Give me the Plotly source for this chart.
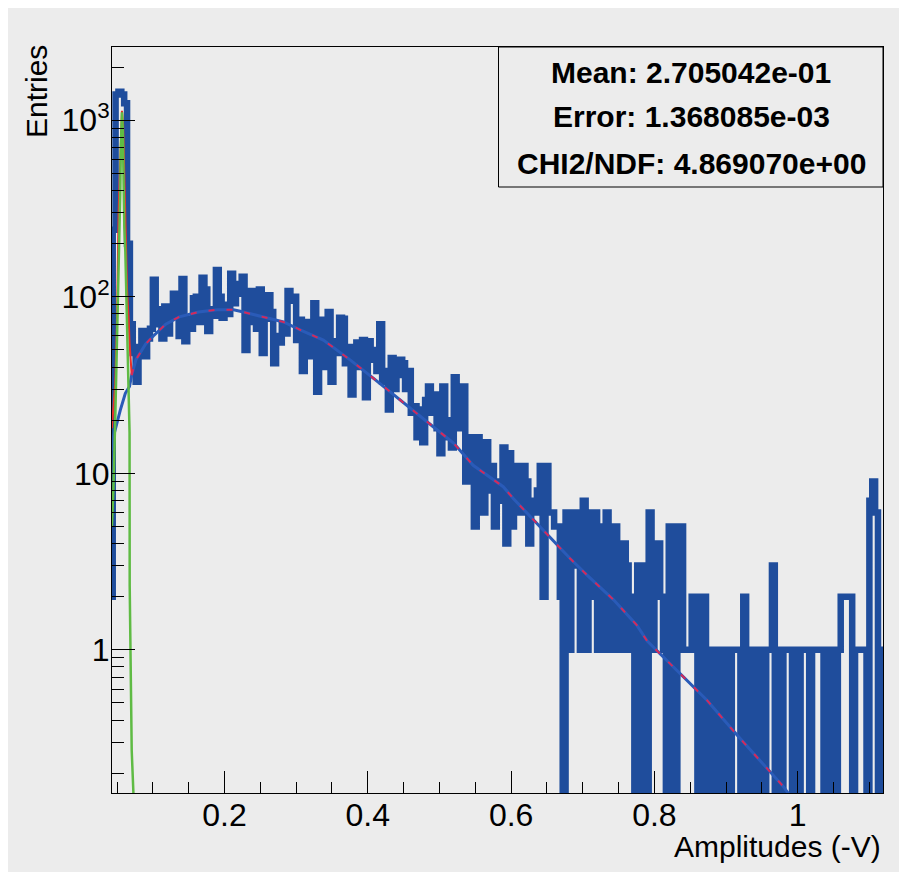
import plotly.graph_objects as go

# ---------------- data ----------------
bin_lo = 0.040
bin_width = 0.004
counts = [
    2, 240, 1400, 1450, 1400, 1250, 200, 70, 48, 33,
    52, 64, 46, 58, 66, 125, 70, 85, 58, 88,
    62, 78, 104, 92, 60, 126, 56, 75, 66, 98,
    100, 72, 128, 110, 64, 85, 78, 142, 100, 76,
    90, 80, 135, 92, 118, 104, 130, 50, 72, 108,
    85, 66, 110, 48, 75, 102, 82, 42, 60, 55,
    70, 62, 108, 95, 100, 57, 74, 38, 72, 46,
    60, 92, 29, 74, 52, 40, 82, 33, 56, 48,
    76, 75, 42, 52, 28, 50, 55, 40, 57, 27,
    56, 44, 50, 38, 70, 33, 38, 23, 45, 30,
    36, 44, 42, 30, 38, 22, 24, 16, 23, 15,
    26, 31, 22, 28, 18, 13, 31, 20, 16, 14,
    35, 26, 18, 31, 9, 16, 15, 5, 16, 15,
    6, 15, 8, 11, 5, 9, 7, 14, 4, 13,
    5, 8, 11, 6, 11, 9, 4, 7, 6, 8,
    11, 2, 11, 6, 6, 5, 5, 2, 0, 6,
    1, 6, 3, 6, 1, 7, 1, 6, 2, 6,
    1, 5, 1, 6, 5, 1, 5, 4, 1, 4,
    3, 1, 2, 0, 3, 0, 3, 0, 6, 1,
    4, 4, 2, 1, 0, 5, 2, 0, 5, 5,
    1, 1, 1, 2, 2, 0, 2, 2, 0, 1,
    0, 1, 0, 1, 0, 1, 0, 1, 1, 1,
    0, 2, 0, 1, 0, 1, 0, 1, 0, 1,
    1, 3, 0, 1, 0, 1, 1, 1, 0, 1,
    0, 1, 1, 1, 0, 1, 1, 1, 1, 0,
    1, 0, 1, 0, 1, 2, 2, 2, 2, 0,
    1, 1, 1, 1, 0, 7, 9, 6, 0, 1,
]

# signal component of the fit (blue)
fit_x = [0.043, 0.0447, 0.0546, 0.0616, 0.0674, 0.0705, 0.0764, 0.09, 0.1007, 0.118,
         0.137, 0.1637, 0.19, 0.2126, 0.2265, 0.2544, 0.2823, 0.3056, 0.338, 0.3757,
         0.408, 0.4917, 0.52, 0.547, 0.589, 0.603, 0.682, 0.7056, 0.743, 0.7754,
         0.79, 0.873, 0.915, 0.98, 1.0]
fit_y = [13.5, 16, 22.8, 28.4, 31, 36, 44, 54, 60, 70,
         77, 82, 84.5, 84.5, 82, 77, 72, 65, 56.8, 43.8,
         34.5, 18.3, 14.8, 11.1, 8.4, 7.2, 3.3, 2.66, 1.92, 1.38,
         1.12, 0.52, 0.33, 0.168, 0.13]

# pedestal component (green)
ped_x = [0.0428, 0.0449, 0.0475, 0.0499, 0.0535, 0.0546, 0.0553, 0.0569, 0.0580, 0.0592,
         0.0602, 0.0616, 0.064, 0.0663, 0.0675, 0.0677, 0.069, 0.0705, 0.073]
ped_y = [5, 8, 20, 55, 200, 400, 700, 1110, 900, 400,
         250, 180, 60, 20, 17, 2.3, 0.77, 0.27, 0.15]

# total fit around the pedestal (red)
tot_x = [0.0428, 0.0449, 0.0475, 0.0499, 0.0522, 0.0546, 0.0569, 0.0585, 0.0592, 0.0606,
         0.0623, 0.064, 0.0663, 0.0675, 0.0705]
tot_y = [18, 25, 32, 70, 300, 600, 1130, 950, 680, 352,
         176, 110, 75, 55, 36]

y_tick_vals = [1, 10, 100, 1000]
y_tick_text = ["1", "10", "10<sup>2</sup>", "10<sup>3</sup>"]
stats_lines = ["Mean: 2.705042e-01", "Error: 1.368085e-03", "CHI2/NDF: 4.869070e+00"]

# ---------------- figure ----------------
OFF = 8                      # page body margin of the browser
W, H = 907 - OFF, 884 - OFF
L, R, T, B = 104, 24, 39, 91
BG = "#ececec"
FONT = "Liberation Sans, Arial, Helvetica, sans-serif"

edges = [round(bin_lo + bin_width * i, 4) for i in range(len(counts) + 1)]
hist_y = [c if c > 0 else 0.01 for c in counts]
hist_y = hist_y + [hist_y[-1]]

fig = go.Figure()
fig.add_trace(go.Scatter(x=edges, y=hist_y, mode="lines",
                         line=dict(shape="hv", width=6.5, color="#1f4d9c"),
                         hoverinfo="skip", showlegend=False))
fig.add_trace(go.Scatter(x=fit_x, y=fit_y, mode="lines",
                         line=dict(width=3, color="#2a5bb8"),
                         hoverinfo="skip", showlegend=False))
fig.add_trace(go.Scatter(x=tot_x, y=tot_y, mode="lines",
                         line=dict(width=2, color="#e8302a"),
                         hoverinfo="skip", showlegend=False))
fig.add_trace(go.Scatter(x=fit_x[5:], y=fit_y[5:], mode="lines",
                         line=dict(width=2, color="#d42a5a", dash="6px,12px"),
                         hoverinfo="skip", showlegend=False))
fig.add_trace(go.Scatter(x=ped_x, y=ped_y, mode="lines",
                         line=dict(width=2.5, color="#5fbb44"),
                         hoverinfo="skip", showlegend=False))

minor_y = [d * m for d in (0.1, 1, 10, 100, 1000) for m in range(2, 10)]

fig.update_layout(
    width=W, height=H,
    margin=dict(l=L, r=R, t=T, b=B),
    paper_bgcolor="white", plot_bgcolor=BG,
    font=dict(family=FONT, color="black", size=30),
    xaxis=dict(range=[0.043, 1.119], tick0=0, dtick=0.2, ticks="inside", ticklen=22,
               tickwidth=1, tickcolor="black", showline=True, linecolor="black",
               linewidth=1, mirror=True, showgrid=False, zeroline=False,
               tickfont=dict(size=32), ticklabelstandoff=-6,
               minor=dict(dtick=0.05, tick0=0, ticks="inside", ticklen=11,
                          tickcolor="black", tickwidth=1, showgrid=False)),
    yaxis=dict(type="log", range=[-0.811, 3.415], tickmode="array",
               tickvals=y_tick_vals, ticktext=y_tick_text, ticks="inside", ticklen=23,
               tickwidth=1, tickcolor="black", showline=True, linecolor="black",
               linewidth=1, mirror=True, showgrid=False, zeroline=False,
               tickfont=dict(size=32), ticklabelstandoff=-5,
               minor=dict(tickmode="array", tickvals=minor_y, ticks="inside",
                          ticklen=12, tickcolor="black", tickwidth=1, showgrid=False)),
)

pw = W - L - R
ph = H - T - B


def px2paper_x(px):
    # px: screen pixel column
    return (px - OFF - L) / pw


def py2paper_y(py):
    # py: screen pixel row
    return (H - B - (py - OFF)) / ph


# grey canvas (white border around it)
fig.add_shape(type="rect", xref="paper", yref="paper", layer="below",
              x0=px2paper_x(OFF), x1=px2paper_x(900), y0=py2paper_y(872), y1=py2paper_y(OFF),
              fillcolor=BG, line=dict(width=0))

# stats box
fig.add_shape(type="rect", xref="paper", yref="paper",
              x0=px2paper_x(498.5), x1=1.0, y0=py2paper_y(187), y1=1.0,
              fillcolor=BG, line=dict(color="black", width=1))
for line_text, cy in zip(stats_lines, [72, 117, 163]):
    fig.add_annotation(text="<b>" + line_text + "</b>", xref="paper", yref="paper",
                       x=px2paper_x(691), y=py2paper_y(cy), xanchor="center",
                       yanchor="middle", showarrow=False,
                       font=dict(size=30, family=FONT, color="black"))

# axis titles
fig.add_annotation(text="Entries", xref="paper", yref="paper", textangle=-90,
                   x=px2paper_x(36), y=py2paper_y(92), xanchor="center", yanchor="middle",
                   showarrow=False, font=dict(size=30, family=FONT, color="black"))
fig.add_annotation(text="Amplitudes (-V)", xref="paper", yref="paper",
                   x=1.0, y=py2paper_y(846), xanchor="right", yanchor="middle",
                   showarrow=False, font=dict(size=30, family=FONT, color="black"))

fig.write_html("out.html")
